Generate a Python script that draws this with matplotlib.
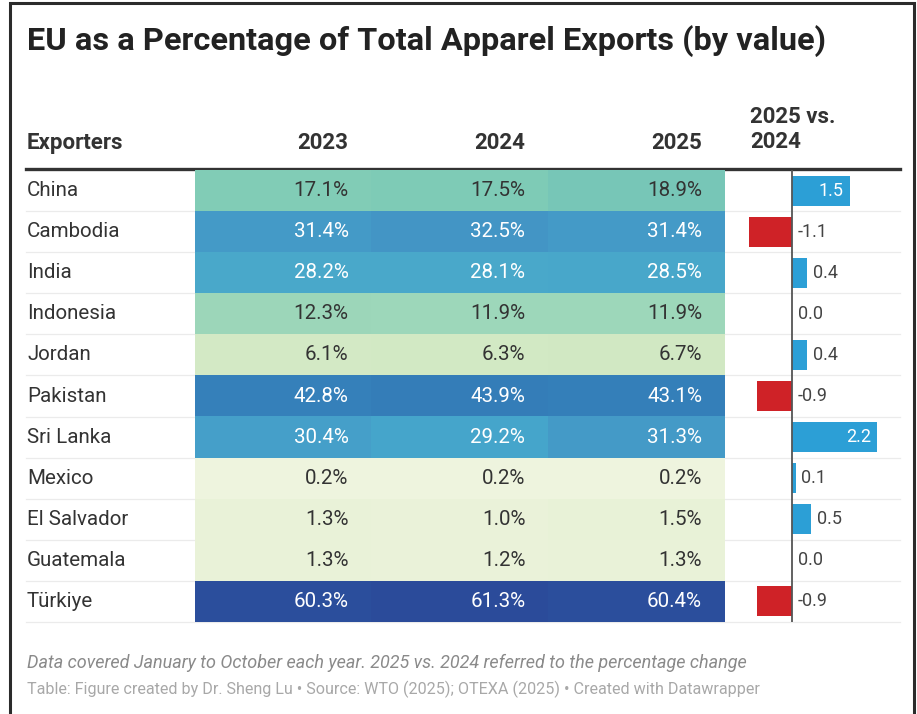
import matplotlib
matplotlib.use("Agg")
import matplotlib.pyplot as plt
import numpy as np
from matplotlib.colors import LinearSegmentedColormap, Normalize
from matplotlib.transforms import blended_transform_factory

# ---- data ---------------------------------------------------------------
exporters = ["China", "Cambodia", "India", "Indonesia", "Jordan", "Pakistan",
             "Sri Lanka", "Mexico", "El Salvador", "Guatemala", "Türkiye"]
years = ["2023", "2024", "2025"]
share_2023 = [17.1, 31.4, 28.2, 12.3, 6.1, 42.8, 30.4, 0.2, 1.3, 1.3, 60.3]
share_2024 = [17.5, 32.5, 28.1, 11.9, 6.3, 43.9, 29.2, 0.2, 1.0, 1.2, 61.3]
share_2025 = [18.9, 31.4, 28.5, 11.9, 6.7, 43.1, 31.3, 0.2, 1.5, 1.3, 60.4]
change_25_vs_24 = [1.5, -1.1, 0.4, 0.0, 0.4, -0.9, 2.2, 0.1, 0.5, 0.0, -0.9]

title = "EU as a Percentage of Total Apparel Exports (by value)"
note = "Data covered January to October each year. 2025 vs. 2024 referred to the percentage change"
credit = ("Table: Figure created by Dr. Sheng Lu \u2022 Source: WTO (2025); "
          "OTEXA (2025) \u2022 Created with Datawrapper")

# ---- styling ------------------------------------------------------------
W, H = 917, 714
FONT = ["Roboto", "DejaVu Sans"]
TXT = "#333333"
POS_COLOR = "#2c9fd6"
NEG_COLOR = "#cf2227"

# heat scale stops (value, colour)
stops = [(0, "#eef4de"), (1.5, "#e8f2d7"), (6.5, "#d2e9c4"), (12, "#9dd7ba"),
         (18, "#7ccab6"), (29, "#46a6cc"), (32, "#4497c6"), (43, "#3580ba"),
         (62, "#2b4a9a")]
vmax = stops[-1][0]
cmap = LinearSegmentedColormap.from_list(
    "share", [(v / vmax, c) for v, c in stops])
norm = Normalize(0, vmax)

plt.rcParams["font.family"] = FONT

fig = plt.figure(figsize=(W / 100, H / 100), dpi=100)
fig.patch.set_facecolor("white")


def fx(x):
    return x / W


def fy(y):
    return 1 - y / H


def box(x0, y0, x1, y1):
    return [fx(x0), fy(y1), fx(x1) - fx(x0), fy(y0) - fy(y1)]


n = len(exporters)
top, bottom = 170, 622
row_h = (bottom - top) / n

# background layer in pixel coordinates: frame, header rule, row rules
bg = fig.add_axes([0, 0, 1, 1], zorder=-5)
bg.set_xlim(0, W)
bg.set_ylim(H, 0)
bg.axis("off")
bg.plot([10, 10, 914, 914], [H + 5, 3, 3, H + 5], color="#2b2b2b", lw=2.2,
        solid_joinstyle="miter")
for k in range(1, n + 1):
    yk = top + row_h * k
    bg.plot([26, 900], [yk, yk], color="#ebebeb", lw=0.9)
bg.plot([26, 900], [top - 1, top - 1], color="#333333", lw=2.4)

# ---- heatmap columns ----------------------------------------------------
values = np.array([share_2023, share_2024, share_2025]).T
axh = fig.add_axes(box(195, top, 725, bottom))
axh.imshow(values, cmap=cmap, norm=norm, aspect="auto",
           interpolation="nearest", extent=(0, 3, n, 0))
axh.set_xlim(0, 3)
axh.set_ylim(n, 0)
axh.axis("off")

pad = 0.13
for i in range(n):
    for j in range(3):
        v = values[i, j]
        axh.text(j + 1 - pad, i + 0.5, f"{v:.1f}%", ha="right", va="center",
                 fontsize=14.8, color="white" if v >= 25 else TXT)

hdr_tr = blended_transform_factory(axh.transData, fig.transFigure)
for j, yr in enumerate(years):
    axh.text(j + 1 - pad, fy(149), yr, transform=hdr_tr, ha="right",
             va="baseline", fontsize=16, fontweight="bold", color=TXT)

# ---- change bars --------------------------------------------------------
zero_px, unit_px = 792, 38.7
bx0, bx1 = 740, 905
axb = fig.add_axes(box(bx0, top, bx1, bottom))
axb.set_xlim(-(zero_px - bx0) / unit_px, (bx1 - zero_px) / unit_px)
axb.set_ylim(n, 0)
axb.axis("off")
ypos = np.arange(n) + 0.5
colors = [POS_COLOR if c >= 0 else NEG_COLOR for c in change_25_vs_24]
axb.barh(ypos, change_25_vs_24, height=0.73, color=colors, zorder=2)
axb.plot([0, 0], [0, n], color="#555555", lw=1.3, zorder=3)
for y, c in zip(ypos, change_25_vs_24):
    if c >= 1.0:
        axb.annotate(f"{c:.1f}", (c, y), xytext=(-4.5, 0),
                     textcoords="offset points", ha="right", va="center",
                     fontsize=13, color="white", zorder=4)
    else:
        axb.annotate(f"{c:.1f}", (max(c, 0), y), xytext=(4, 0),
                     textcoords="offset points", ha="left", va="center",
                     fontsize=13, color="#444444", zorder=4)

# ---- text ---------------------------------------------------------------
fig.text(fx(27), fy(50), title, ha="left", va="baseline", fontsize=23.4,
         fontweight="bold", color="#222222")
fig.text(fx(27), fy(149), "Exporters", ha="left", va="baseline",
         fontsize=16, fontweight="bold", color=TXT)
fig.text(fx(750), fy(123), "2025 vs.", ha="left", va="baseline",
         fontsize=16, fontweight="bold", color=TXT)
fig.text(fx(750), fy(148), "2024", ha="left", va="baseline",
         fontsize=16, fontweight="bold", color=TXT)
for i, name in enumerate(exporters):
    fig.text(fx(27), fy(top + row_h * (i + 0.5)), name, ha="left",
             va="center", fontsize=14.8, color=TXT)

fig.text(fx(27), fy(668), note, ha="left", va="baseline", fontsize=13,
         style="italic", color="#8a8a8a")
fig.text(fx(27), fy(694), credit, ha="left", va="baseline", fontsize=11.6,
         color="#a8a8a8")

fig.savefig("out.png", dpi=100, facecolor="white")
